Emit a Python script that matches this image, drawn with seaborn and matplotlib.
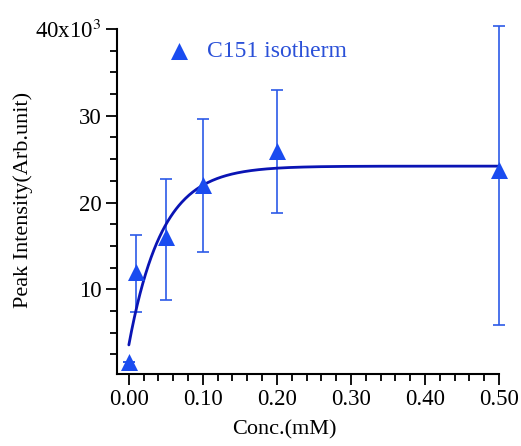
import numpy as np
import pandas as pd
import matplotlib
matplotlib.use("Agg")
import matplotlib.pyplot as plt
import seaborn as sns
from matplotlib.ticker import MultipleLocator, FixedLocator, FixedFormatter

# ---- data ----
conc = [0.00, 0.01, 0.05, 0.10, 0.20, 0.50]              # mM
intensity = [1600, 12000, 16000, 22000, 25900, 23800]    # Arb. unit
err_low = [0, 4600, 7200, 7700, 7100, 17900]
err_high = [0, 4300, 6700, 7600, 7100, 16500]
# fitted isotherm curve (exponential saturation), parameters
fit_plateau = 24200
fit_amp = 20600
fit_tau = 0.0447
fit_range = [0.0, 0.50]
ytick_vals = [10000, 20000, 30000, 40000]
ytick_labels = ["10", "20", "30", "40x10$^{3}$"]
xtick_vals = [0.0, 0.1, 0.2, 0.3, 0.4, 0.5]
xtick_labels = ["0.00", "0.10", "0.20", "0.30", "0.40", "0.50"]
legend_label = "C151 isotherm"

sns.set_style("ticks")
plt.rcParams["font.family"] = ["Liberation Serif", "DejaVu Serif"]
plt.rcParams["mathtext.fontset"] = "stix"
plt.rcParams["axes.labelcolor"] = "black"

marker_col = "#1a4cf0"
err_col = "#2c5ae8"
fit_col = "#0a14b4"

fig = plt.figure(figsize=(5.21, 4.46), dpi=100)
ax = fig.add_axes([117 / 521, 1 - 374 / 446, 382 / 521, (374 - 29) / 446])

df = pd.DataFrame({"conc": conc, "intensity": intensity})
xf = np.linspace(fit_range[0], fit_range[1], 400)
fit_df = pd.DataFrame({"conc": xf,
                       "fit": fit_plateau - fit_amp * np.exp(-xf / fit_tau)})

ax.errorbar(conc, intensity, yerr=[err_low, err_high], fmt="none",
            ecolor=err_col, elinewidth=1.2, capsize=4, capthick=1.2,
            clip_on=False, zorder=2)
sns.lineplot(data=fit_df, x="conc", y="fit", ax=ax, color=fit_col,
             linewidth=2.0, zorder=3, legend=False)
sns.scatterplot(data=df, x="conc", y="intensity", ax=ax, marker="^",
                s=150, color=marker_col, linewidth=0, zorder=4,
                clip_on=False, label=legend_label)

ax.set_xlim(-0.016, 0.50)
ax.set_ylim(250, 40000)
ax.xaxis.set_major_locator(FixedLocator(xtick_vals))
ax.xaxis.set_major_formatter(FixedFormatter(xtick_labels))
ax.xaxis.set_minor_locator(MultipleLocator(0.02))
ax.yaxis.set_major_locator(FixedLocator(ytick_vals))
ax.yaxis.set_major_formatter(FixedFormatter(ytick_labels))
ax.yaxis.set_minor_locator(MultipleLocator(2500))

for side in ["top", "right"]:
    ax.spines[side].set_visible(False)
for side in ["left", "bottom"]:
    ax.spines[side].set_linewidth(1.5)
    ax.spines[side].set_color("black")
ax.tick_params(which="major", direction="out", length=8, width=1.3,
               labelsize=16.5, color="black", labelcolor="black", pad=3)
ax.tick_params(which="minor", direction="out", length=5, width=1.3, color="black")

ax.set_xlabel("Conc.(mM)", fontsize=16, color="black")
ax.set_ylabel("Peak Intensity(Arb.unit)", fontsize=16, color="black")
ax.xaxis.set_label_coords((284 - 117) / 382, (374 - 420) / 345)
ax.yaxis.set_label_coords((33 - 117) / 382, 0.505)

leg = ax.legend(loc="center left", bbox_to_anchor=(0.10, 0.935), frameon=False,
                fontsize=17, handletextpad=0.2, borderpad=0, borderaxespad=0,
                markerscale=1.0)
for t in leg.get_texts():
    t.set_color("#2a50d8")

fig.savefig("out.png", dpi=100)
